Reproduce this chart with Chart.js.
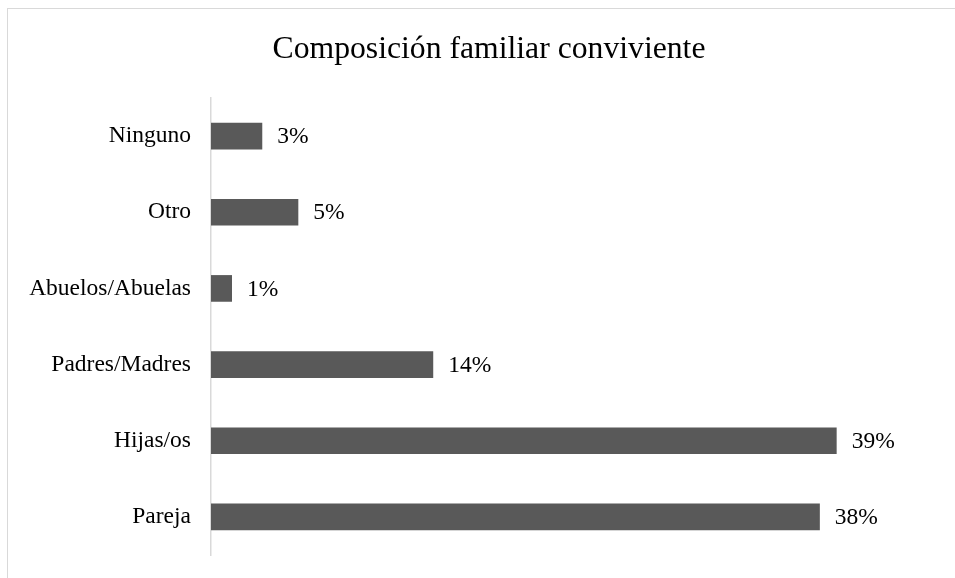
<!DOCTYPE html>
<html>
<head>
<meta charset="utf-8">
<script src="https://cdn.jsdelivr.net/npm/chart.js@4/dist/chart.umd.min.js"></script>
<style>
html,body{margin:0;padding:0;background:#fff;}
#wrap{position:relative;width:955px;height:578px;}
</style>
</head>
<body>
<div id="wrap"><canvas id="c" width="955" height="578"></canvas></div>
<script>
const categories = ["Ninguno", "Otro", "Abuelos/Abuelas", "Padres/Madres", "Hijas/os", "Pareja"];
const values = [3.2, 5.45, 1.31, 13.87, 39.05, 38.0];
const valueLabels = ["3%", "5%", "1%", "14%", "39%", "38%"];
const titleText = "Composición familiar conviviente";

const FONT = "'Liberation Serif', 'Times New Roman', serif";

const framePlugin = {
  id: 'frame',
  beforeDraw(chart) {
    const ctx = chart.ctx;
    ctx.save();
    ctx.fillStyle = '#fff';
    ctx.fillRect(0, 0, chart.width, chart.height);
    ctx.strokeStyle = '#d9d9d9';
    ctx.lineWidth = 1;
    ctx.strokeRect(7.5, 8.5, chart.width + 20, chart.height + 20);
    ctx.restore();
  },
  afterDraw(chart) {
    const ctx = chart.ctx;
    ctx.save();
    ctx.font = "31.7px " + FONT;
    ctx.fillStyle = '#000';
    ctx.textAlign = 'center';
    ctx.textBaseline = 'alphabetic';
    ctx.fillText(titleText, 489, 57.5);
    ctx.restore();
  }
};

const labelPlugin = {
  id: 'valueLabels',
  afterDatasetsDraw(chart) {
    const ctx = chart.ctx;
    const meta = chart.getDatasetMeta(0);
    ctx.save();
    ctx.font = "23.5px " + FONT;
    ctx.fillStyle = '#000';
    ctx.textAlign = 'left';
    ctx.textBaseline = 'middle';
    meta.data.forEach((bar, i) => {
      ctx.fillText(valueLabels[i], bar.x + 15, bar.y + 1);
    });
    ctx.restore();
  }
};

new Chart(document.getElementById('c'), {
  type: 'bar',
  data: {
    labels: categories,
    datasets: [{
      data: values,
      backgroundColor: '#595959',
      borderWidth: 0,
      categoryPercentage: 1,
      barPercentage: 0.35
    }]
  },
  options: {
    indexAxis: 'y',
    responsive: false,
    animation: false,
    layout: { padding: { top: 98, bottom: 23, left: 0, right: 23 } },
    plugins: {
      legend: { display: false },
      tooltip: { enabled: false },
      title: { display: false }
    },
    scales: {
      x: {
        display: false,
        min: 0,
        max: 45
      },
      y: {
        grid: { display: false, drawTicks: false },
        border: { display: true, color: '#d9d9d9', width: 1.5 },
        ticks: {
          color: '#000',
          padding: 20,
          font: { family: FONT, size: 23.5 }
        },
        afterFit(scale) {
          scale.width = 211;
          scale.paddingTop = 0;
          scale.paddingBottom = 0;
        }
      }
    }
  },
  plugins: [framePlugin, labelPlugin]
});
</script>
</body>
</html>
